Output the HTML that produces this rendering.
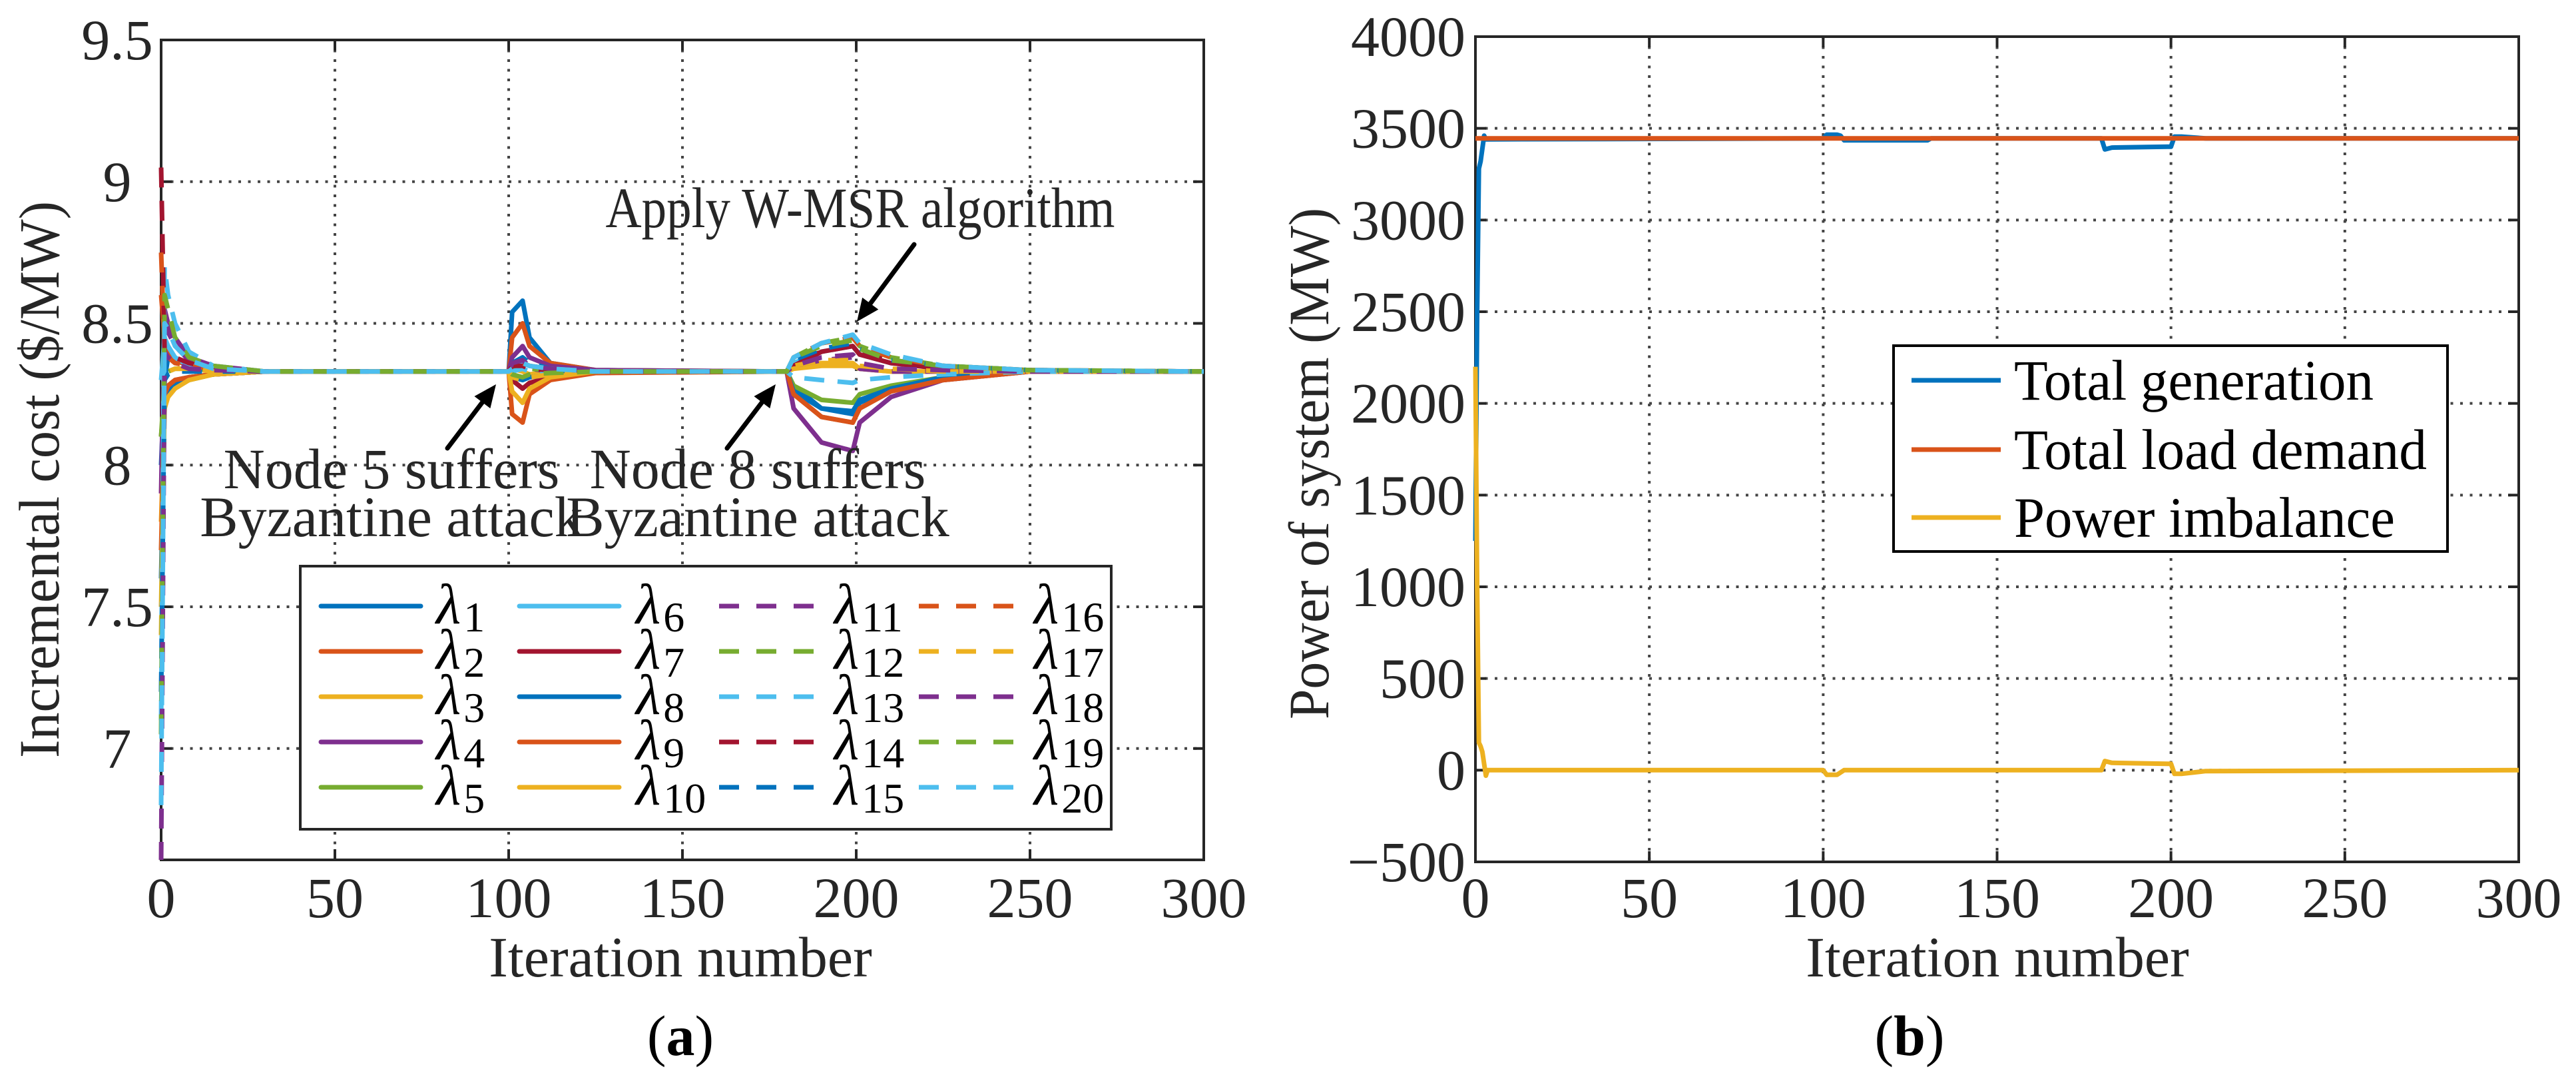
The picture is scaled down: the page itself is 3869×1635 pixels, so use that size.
<!DOCTYPE html>
<html><head><meta charset="utf-8"><style>
html,body{margin:0;padding:0;background:#fff;}
svg{display:block;font-family:"Liberation Serif","DejaVu Serif",serif;}
</style></head><body>
<svg id="fig" width="3869" height="1635" viewBox="0 0 3869 1635" xmlns="http://www.w3.org/2000/svg"></svg>
<script>
// ---------- Panel (a) data ----------
const lamKeys = [0,1,2,4,8,15,30,100,101,104,106,112,125,180,182,190,199,201,210,225,250,300];
const lam1  = [8.0,8.3,8.38,8.37,8.35,8.34,8.33,8.33,8.54,8.58,8.45,8.36,8.335,8.33,8.28,8.2,8.18,8.22,8.27,8.31,8.33,8.33];
const lam2  = [8.6,8.45,8.4,8.37,8.35,8.34,8.33,8.33,8.45,8.5,8.42,8.36,8.335,8.33,8.25,8.17,8.15,8.2,8.26,8.3,8.33,8.33];
const lam3  = [7.8,8.2,8.25,8.28,8.3,8.32,8.33,8.33,8.34,8.33,8.32,8.33,8.33,8.33,8.35,8.36,8.36,8.34,8.33,8.33,8.33,8.33];
const lam4  = [7.9,8.55,8.5,8.45,8.38,8.35,8.33,8.33,8.38,8.42,8.38,8.35,8.335,8.33,8.2,8.08,8.05,8.15,8.24,8.3,8.33,8.33];
const lam5  = [8.2,8.2,8.25,8.28,8.3,8.32,8.33,8.33,8.3,8.27,8.29,8.31,8.33,8.33,8.28,8.23,8.22,8.25,8.28,8.31,8.33,8.33];
const lam6  = [8.3,8.45,8.42,8.38,8.35,8.34,8.33,8.33,8.35,8.36,8.35,8.34,8.33,8.33,8.36,8.4,8.42,8.39,8.36,8.34,8.33,8.33];
const lam7  = [8.1,8.25,8.28,8.3,8.31,8.32,8.33,8.33,8.3,8.27,8.29,8.31,8.33,8.33,8.35,8.4,8.42,8.39,8.36,8.34,8.33,8.33];
const lam8  = [7.6,8.22,8.26,8.29,8.31,8.32,8.33,8.33,8.31,8.3,8.31,8.32,8.33,8.33,8.26,8.2,8.19,8.23,8.27,8.31,8.33,8.33];
const lam9  = [7.7,8.25,8.28,8.3,8.31,8.32,8.33,8.33,8.18,8.15,8.25,8.3,8.325,8.33,8.25,8.17,8.15,8.2,8.26,8.3,8.33,8.33];
const lam10 = [7.5,8.2,8.24,8.27,8.3,8.32,8.33,8.33,8.26,8.22,8.27,8.31,8.33,8.33,8.34,8.35,8.35,8.34,8.33,8.33,8.33,8.33];
const lam11 = [8.5,8.5,8.47,8.42,8.37,8.34,8.33,8.33,8.35,8.34,8.34,8.33,8.33,8.33,8.35,8.37,8.38,8.34,8.33,8.33,8.33,8.33];
const lam12 = [8.1,8.3,8.33,8.34,8.34,8.335,8.33,8.33,8.34,8.35,8.34,8.335,8.33,8.33,8.38,8.43,8.45,8.42,8.38,8.35,8.335,8.33];
const lam13 = [7.1,8.7,8.6,8.5,8.4,8.35,8.33,8.33,8.33,8.34,8.33,8.33,8.33,8.33,8.31,8.3,8.29,8.3,8.31,8.32,8.33,8.33];
const lam14 = [9.05,8.4,8.4,8.38,8.36,8.34,8.33,8.33,8.35,8.35,8.34,8.335,8.33,8.33,8.36,8.4,8.42,8.4,8.37,8.34,8.335,8.33];
const lam15 = [7.2,8.3,8.32,8.33,8.33,8.33,8.33,8.33,8.36,8.38,8.36,8.34,8.33,8.33,8.37,8.41,8.43,8.41,8.37,8.35,8.335,8.33];
const lam16 = [8.75,8.4,8.38,8.36,8.35,8.34,8.33,8.33,8.34,8.36,8.35,8.34,8.33,8.33,8.38,8.43,8.45,8.42,8.38,8.35,8.335,8.33];
const lam17 = [7.4,8.3,8.33,8.34,8.34,8.33,8.33,8.33,8.31,8.3,8.31,8.32,8.33,8.33,8.35,8.37,8.37,8.35,8.34,8.33,8.33,8.33];
const lam18 = [6.6,8.4,8.38,8.36,8.34,8.335,8.33,8.33,8.36,8.37,8.35,8.34,8.33,8.33,8.35,8.38,8.39,8.36,8.34,8.335,8.33,8.33];
const lam19 = [7.05,8.6,8.55,8.45,8.38,8.35,8.33,8.33,8.32,8.31,8.32,8.325,8.33,8.33,8.38,8.42,8.44,8.41,8.37,8.35,8.335,8.33];
const lam20 = [6.8,8.5,8.48,8.42,8.37,8.34,8.33,8.33,8.34,8.36,8.35,8.34,8.33,8.33,8.38,8.43,8.46,8.43,8.39,8.35,8.335,8.33];
const xTicksA = [0,50,100,150,200,250,300];
const yTicksA = [7,7.5,8,8.5,9,9.5];
const yTickLabelsA = ["7","7.5","8","8.5","9","9.5"];

// ---------- Panel (b) data ----------
const genKeys = [0,0.5,1,1.5,2.5,3,100,101,104,105,106,130,131,180,181,183,199,200,201,203,210,300];
const genVals = [1250,2500,3280,3320,3460,3440,3445,3465,3465,3460,3435,3435,3445,3445,3385,3395,3400,3400,3455,3455,3445,3445];
const loadKeys = [0,300];
const loadVals = [3445,3445];
const imbKeys = [0,0.5,1,1.5,2,3,3.5,100,101,104,106,180,181,183,199,200,201,203,210,300];
const imbVals = [2200,1000,150,130,100,-30,0,0,-25,-25,0,0,50,40,35,35,-20,-20,-5,0];
const xTicksB = [0,50,100,150,200,250,300];
const yTicksB = [-500,0,500,1000,1500,2000,2500,3000,3500,4000];
const yTickLabelsB = ["\u2212500","0","500","1000","1500","2000","2500","3000","3500","4000"];

const svg = document.getElementById('fig');
const NS = 'http://www.w3.org/2000/svg';
function mk(tag, attrs, parent){
  const e = document.createElementNS(NS, tag);
  for (const k in attrs) e.setAttribute(k, attrs[k]);
  (parent||svg).appendChild(e);
  return e;
}
const TXT = '#262626';
const colors = ['#0072BD','#D95319','#EDB120','#7E2F8E','#77AC30','#4DBEEE','#A2142F'];

const A = {x0:242, x1:1808, y0:60, y1:1291, xmin:0, xmax:300, ymin:6.607, ymax:9.5};
const B = {x0:2216, x1:3783, y0:55, y1:1294, xmin:0, xmax:300, ymin:-500, ymax:4000};
function sx(ax,v){return ax.x0+(v-ax.xmin)/(ax.xmax-ax.xmin)*(ax.x1-ax.x0);}
function sy(ax,v){return ax.y1-(v-ax.ymin)/(ax.ymax-ax.ymin)*(ax.y1-ax.y0);}

const defs = mk('defs',{});
['A','B'].forEach((n)=>{
  const ax = n==='A'?A:B;
  const cp = mk('clipPath',{id:'clip'+n},defs);
  mk('rect',{x:ax.x0-6,y:ax.y0,width:ax.x1-ax.x0+12,height:ax.y1-ax.y0},cp);
});

function drawAxes(ax, xt, yt, ylab, ylabX, ylabAnchor, name){
  const g = mk('g',{});
  
  
  xt.forEach(v=>{
    const x=sx(ax,v);
    if (x>ax.x0+5 && x<ax.x1-5){
      const l=mk('line',{x1:x,y1:ax.y0,x2:x,y2:ax.y1,stroke:'#444','stroke-width':4,'stroke-dasharray':'4,10.5'},g);
      
      
    }
  });
  yt.forEach(v=>{
    const y=sy(ax,v);
    if (y>ax.y0+5 && y<ax.y1-5){
      const l=mk('line',{x1:ax.x0,y1:y,x2:ax.x1,y2:y,stroke:'#444','stroke-width':4,'stroke-dasharray':'4,10.5'},g);
      
      
    }
  });
  xt.forEach(v=>{
    const x=sx(ax,v);
    mk('line',{x1:x,y1:ax.y1,x2:x,y2:ax.y1-16,stroke:TXT,'stroke-width':4},g);
    mk('line',{x1:x,y1:ax.y0,x2:x,y2:ax.y0+16,stroke:TXT,'stroke-width':4},g);
    const t=mk('text',{x:x,y:1377,'font-size':86,fill:TXT,'text-anchor':'middle'},g);
    t.textContent=String(v);
    
    
  });
  yt.forEach((v,i)=>{
    const y=sy(ax,v);
    mk('line',{x1:ax.x0,y1:y,x2:ax.x0+16,y2:y,stroke:TXT,'stroke-width':4},g);
    mk('line',{x1:ax.x1,y1:y,x2:ax.x1-16,y2:y,stroke:TXT,'stroke-width':4},g);
    const t=mk('text',{x:ylabX,y:y+29,'font-size':86,fill:TXT,'text-anchor':ylabAnchor},g);
    t.textContent=ylab[i];
    
    
  });
  const box = mk('rect',{x:ax.x0,y:ax.y0,width:ax.x1-ax.x0,height:ax.y1-ax.y0,fill:'none',stroke:TXT,'stroke-width':4},g);
  
  
}
drawAxes(A,xTicksA,yTicksA,yTickLabelsA,176,'middle','panel-a');
drawAxes(B,xTicksB,yTicksB,yTickLabelsB,2201,'end','panel-b');

function pathFrom(ax,keys,vals){
  let d='';
  keys.forEach((k,i)=>{ d += (i?'L':'M') + sx(ax,k).toFixed(1)+','+sy(ax,vals[i]).toFixed(1); });
  return d;
}

const lamSeries = [lam1,lam2,lam3,lam4,lam5,lam6,lam7,lam8,lam9,lam10,lam11,lam12,lam13,lam14,lam15,lam16,lam17,lam18,lam19,lam20];
const gA = mk('g',{'clip-path':'url(#clipA)'});


lamSeries.forEach((vals,i)=>{
  const p = mk('path',{d:pathFrom(A,lamKeys,vals),fill:'none',stroke:colors[i%7],'stroke-width':7,'stroke-linejoin':'round'},gA);
  if (i>=10) p.setAttribute('stroke-dasharray','30,20');
  
  
});

const gB = mk('g',{'clip-path':'url(#clipB)'});


const pb1 = mk('path',{d:pathFrom(B,genKeys,genVals),fill:'none',stroke:colors[0],'stroke-width':7,'stroke-linejoin':'round'},gB);


const pb2 = mk('path',{d:pathFrom(B,loadKeys,loadVals),fill:'none',stroke:colors[1],'stroke-width':7},gB);


const pb3 = mk('path',{d:pathFrom(B,imbKeys,imbVals),fill:'none',stroke:colors[2],'stroke-width':7,'stroke-linejoin':'round'},gB);



const legA = mk('g',{});


mk('rect',{x:451,y:850,width:1218,height:395,fill:'#fff',stroke:TXT,'stroke-width':4},legA);
const colLineX = [482,780,1080,1380];
const colTextX = [655,955,1253,1553];
const rowY = [910,978,1046,1114,1182];
for (let i=0;i<20;i++){
  const c=Math.floor(i/5), r=i%5;
  const e = mk('g',{},legA);
  
  
  const l = mk('line',{x1:colLineX[c],y1:rowY[r],x2:colLineX[c]+150,y2:rowY[r],stroke:colors[i%7],'stroke-width':7,'stroke-linecap':'round'},e);
  if (i>=10) { l.setAttribute('stroke-dasharray','30,26'); l.setAttribute('stroke-linecap','butt'); }
  const t = mk('text',{x:colTextX[c],y:rowY[r]+26,'font-size':86,fill:'#000','font-style':'italic'},e);
  t.textContent='\u03BB';
  const s = mk('tspan',{'font-size':64,'font-style':'normal',dy:12,dx:4},t);
  s.textContent=String(i+1);
}

const legB = mk('g',{});


mk('rect',{x:2844,y:519,width:832,height:309,fill:'#fff',stroke:'#000','stroke-width':4},legB);
const legBLabels = ['Total generation','Total load demand','Power imbalance'];
const legBWidths = [540,620,572];
const legBY = [571,675,777];
legBLabels.forEach((lab,i)=>{
  const e = mk('g',{},legB);
  
  
  mk('line',{x1:2871,y1:legBY[i],x2:3005,y2:legBY[i],stroke:colors[i],'stroke-width':7},e);
  const t = mk('text',{x:3025,y:legBY[i]+29,'font-size':86,fill:'#000',textLength:legBWidths[i],lengthAdjust:'spacingAndGlyphs'},e);
  t.textContent=lab;
});

function txt(x,y,s,size,name,extra){
  const t = mk('text',Object.assign({x:x,y:y,'font-size':size,fill:TXT,'text-anchor':'middle'},extra||{}));
  t.textContent=s;
  
  
  return t;
}
txt(1022,1466,'Iteration number',86,'x-axis-title-a');
txt(3000,1466,'Iteration number',86,'x-axis-title-b');
txt(0,0,'Incremental cost ($/MW)',86,'y-axis-title-a',{transform:'translate(88,720) rotate(-90)',textLength:836,lengthAdjust:'spacingAndGlyphs'});
txt(0,0,'Power of system (MW)',86,'y-axis-title-b',{transform:'translate(1995,696) rotate(-90)',textLength:768,lengthAdjust:'spacingAndGlyphs'});
const ca = txt(1022,1584,'',86,'panel-label-a',{fill:'#000'});
const t1=mk('tspan',{},ca); t1.textContent='('; const t2=mk('tspan',{'font-weight':'bold'},ca); t2.textContent='a'; const t3=mk('tspan',{},ca); t3.textContent=')';
const cb = txt(2868,1584,'',86,'panel-label-b',{fill:'#000'});
const u1=mk('tspan',{},cb); u1.textContent='('; const u2=mk('tspan',{'font-weight':'bold'},cb); u2.textContent='b'; const u3=mk('tspan',{},cb); u3.textContent=')';

txt(1292,341,'Apply W-MSR algorithm',86,'annotation-wmsr',{textLength:765,lengthAdjust:'spacingAndGlyphs'});
txt(588,733,'Node 5 suffers',86,'annotation-node5-line1');
txt(588,805,'Byzantine attack',86,'annotation-node5-line2');
txt(1138,733,'Node 8 suffers',86,'annotation-node8-line1');
txt(1138,805,'Byzantine attack',86,'annotation-node8-line2');

function arrow(x1,y1,x2,y2,name){
  const g = mk('g',{});
  
  
  const dx=x2-x1, dy=y2-y1, L=Math.hypot(dx,dy), ux=dx/L, uy=dy/L;
  const hl=34, hw=15;
  const bx=x2-ux*hl, by=y2-uy*hl;
  mk('line',{x1:x1,y1:y1,x2:bx,y2:by,stroke:'#000','stroke-width':7,'stroke-linecap':'round'},g);
  mk('polygon',{points:`${x2},${y2} ${bx-uy*hw},${by+ux*hw} ${bx+uy*hw},${by-ux*hw}`,fill:'#000'},g);
}
arrow(672,673,745,577,'arrow-node5');
arrow(1092,673,1165,577,'arrow-node8');
arrow(1373,367,1287,483,'arrow-wmsr');
</script>
</body></html>
